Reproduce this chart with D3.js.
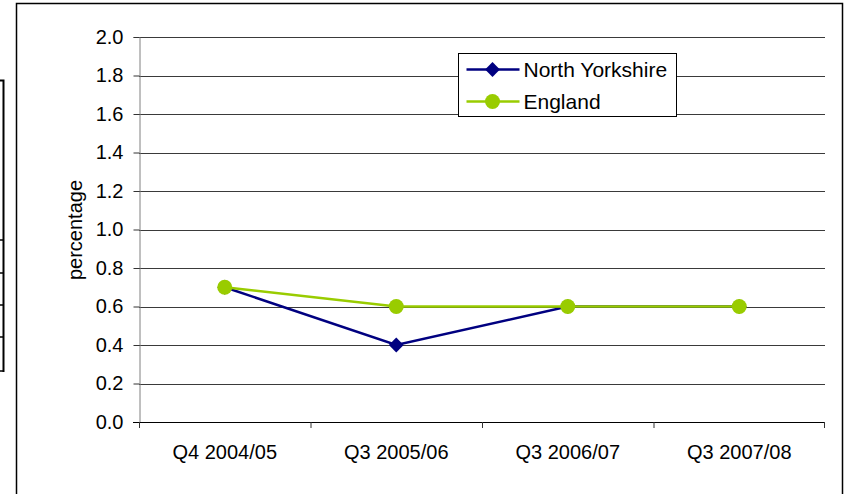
<!DOCTYPE html>
<html>
<head>
<meta charset="utf-8">
<script src="https://cdn.jsdelivr.net/npm/d3@7"></script>
<style>
  body { margin: 0; background: #fff; }
  svg { font-family: "Liberation Sans", Arial, sans-serif; display: block; }
</style>
</head>
<body>
<script>
// Chart data
var quarters = ["Q4 2004/05", "Q3 2005/06", "Q3 2006/07", "Q3 2007/08"];
var northYorkshire = [0.7, 0.4, 0.6, 0.6];
var england = [0.7, 0.6, 0.6, 0.6];
var yTicks = [0, 0.2, 0.4, 0.6, 0.8, 1.0, 1.2, 1.4, 1.6, 1.8, 2.0];

var W = 847, H = 494;
var plot = { left: 139, right: 825, top: 37, bottom: 422 };
var fontSize = "20px";

var svg = d3.select("body").append("svg")
  .attr("width", W)
  .attr("height", H);

// stray table fragment on the far left
var frag = svg.append("g").attr("stroke", "#000").attr("fill", "none");
frag.append("path").attr("d", "M0,80.5H3.5V372").attr("stroke-width", 2);
[240, 273, 305, 337, 371].forEach(function (yy) {
  frag.append("line").attr("x1", 0).attr("x2", 3).attr("y1", yy).attr("y2", yy).attr("stroke-width", 1.5);
});

// outer chart border
svg.append("path")
  .attr("d", "M16.5,500V3.5H842.5V500")
  .attr("fill", "none")
  .attr("stroke", "#000")
  .attr("stroke-width", 1.5);

// Set the ranges
var x = d3.scaleBand().domain(quarters).range([plot.left, plot.right]);
var y = d3.scaleLinear().domain([0, 2]).range([plot.bottom, plot.top]);

// Gridlines
svg.append("g")
  .selectAll("line")
  .data(yTicks.slice(1))
  .join("line")
  .attr("x1", plot.left)
  .attr("x2", plot.right)
  .attr("y1", function (d) { return Math.round(y(d)) + 0.5; })
  .attr("y2", function (d) { return Math.round(y(d)) + 0.5; })
  .attr("stroke", "#3a3a3a")
  .attr("stroke-width", 1);

// Y axis
var yAxis = svg.append("g")
  .attr("transform", "translate(" + (plot.left + 0.5) + ",0)")
  .call(d3.axisLeft(y).tickValues(yTicks).tickFormat(d3.format(".1f")).tickSize(6).tickPadding(10));
yAxis.attr("font-size", fontSize).attr("font-family", null);
yAxis.select(".domain").attr("stroke", "#808080");
yAxis.selectAll(".tick line").attr("stroke", "#333");
yAxis.selectAll(".tick text").attr("fill", "#000");

// X axis
var xAxis = svg.append("g")
  .attr("transform", "translate(0," + (plot.bottom + 0.5) + ")")
  .call(d3.axisBottom(x).tickSize(0).tickPadding(22));
xAxis.attr("font-size", fontSize).attr("font-family", null);
xAxis.select(".domain").attr("stroke", "#000").attr("d", "M" + (plot.left - 6) + ",0H" + plot.right);
xAxis.selectAll(".tick text").attr("fill", "#000");

// category separators on x axis
svg.append("g")
  .selectAll("line")
  .data(quarters.concat(["end"]))
  .join("line")
  .attr("x1", function (d, i) { return i < quarters.length ? x(d) + 0.5 : plot.right - 0.5; })
  .attr("x2", function (d, i) { return i < quarters.length ? x(d) + 0.5 : plot.right - 0.5; })
  .attr("y1", plot.bottom)
  .attr("y2", plot.bottom + 6)
  .attr("stroke", "#333");

// Y label
svg.append("text")
  .attr("transform", "translate(82,230) rotate(-90)")
  .attr("text-anchor", "middle")
  .style("font-size", fontSize)
  .text("percentage");

var cx = function (i) { return x(quarters[i]) + x.bandwidth() / 2; };

var line = d3.line()
  .x(function (d, i) { return cx(i); })
  .y(function (d) { return y(d); });

var diamond = d3.symbol().type(d3.symbolDiamond2).size(140);

// North Yorkshire
svg.append("path")
  .datum(northYorkshire)
  .attr("fill", "none")
  .attr("stroke", "#000080")
  .attr("stroke-width", 2.5)
  .attr("d", line);
svg.append("g")
  .selectAll("path")
  .data(northYorkshire)
  .join("path")
  .attr("d", diamond)
  .attr("transform", function (d, i) { return "translate(" + cx(i) + "," + y(d) + ")"; })
  .attr("fill", "#000080");

// England
svg.append("path")
  .datum(england)
  .attr("fill", "none")
  .attr("stroke", "#99CC00")
  .attr("stroke-width", 2.5)
  .attr("d", line);
svg.append("g")
  .selectAll("circle")
  .data(england)
  .join("circle")
  .attr("cx", function (d, i) { return cx(i); })
  .attr("cy", function (d) { return y(d); })
  .attr("r", 7.5)
  .attr("fill", "#99CC00");

// Legend
var legend = svg.append("g").attr("transform", "translate(458.5,53.5)");
legend.append("rect")
  .attr("width", 218)
  .attr("height", 63)
  .attr("fill", "#fff")
  .attr("stroke", "#000")
  .attr("stroke-width", 1);
var items = [
  { name: "North Yorkshire", color: "#000080", shape: "diamond" },
  { name: "England", color: "#99CC00", shape: "circle" }
];
items.forEach(function (it, i) {
  var g = legend.append("g").attr("transform", "translate(0," + (16 + i * 32) + ")");
  g.append("line").attr("x1", 8).attr("x2", 61).attr("stroke", it.color).attr("stroke-width", 2.5);
  if (it.shape === "circle") {
    g.append("circle").attr("cx", 34).attr("r", 7.5).attr("fill", it.color);
  } else {
    g.append("path")
      .attr("d", diamond)
      .attr("transform", "translate(34,0)")
      .attr("fill", it.color);
  }
  g.append("text")
    .attr("x", 65)
    .attr("dy", "0.35em")
    .style("font-size", "21px")
    .text(it.name);
});
</script>
</body>
</html>
